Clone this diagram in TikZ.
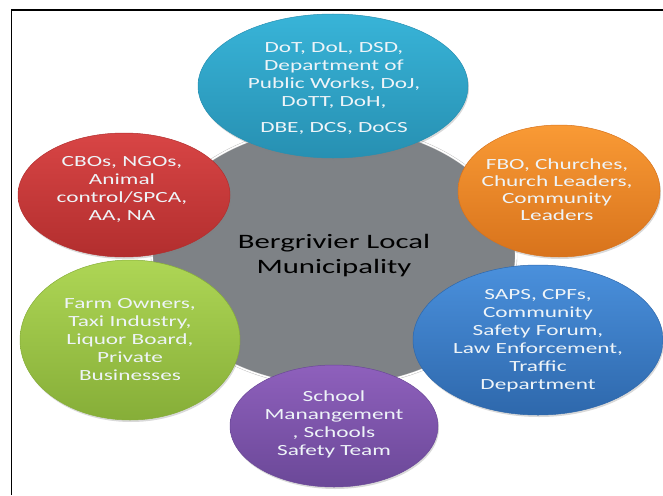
\documentclass[tikz,border=0pt]{standalone}
\usepackage{fontspec}
\setmainfont{Carlito}[FakeStretch=1.5]
\usepackage{tikz}
\usetikzlibrary{shapes.geometric,shadows}
\usepackage{xcolor}

\definecolor{hubgray}{HTML}{7E8286}
\definecolor{textwhite}{HTML}{EEF4F8}
\definecolor{dotTop}{HTML}{38B4D8}
\definecolor{dotBot}{HTML}{2790B2}
\definecolor{cboTop}{HTML}{D84545}
\definecolor{cboBot}{HTML}{B22E2E}
\definecolor{fboTop}{HTML}{F99A35}
\definecolor{fboBot}{HTML}{D8731C}
\definecolor{sapsTop}{HTML}{4A90DC}
\definecolor{sapsBot}{HTML}{2E68AC}
\definecolor{schoolTop}{HTML}{8E60BC}
\definecolor{schoolBot}{HTML}{6B4898}
\definecolor{farmTop}{HTML}{AED655}
\definecolor{farmBot}{HTML}{86AE38}

\begin{document}
\begin{tikzpicture}[
    x=1pt, y=-1pt,
    hub/.style={ellipse, inner sep=0pt, fill=hubgray, draw=gray!55, double=white, double distance=1.6pt, line width=0.4pt},
    hubtext/.style={align=center, inner sep=0pt, text=black, font=\fontsize{20.5}{25}\selectfont},
    bubble/.style n args={2}{ellipse, inner sep=0pt, top color=#1, bottom color=#2, draw=#2, line width=0.5pt,
        drop shadow={opacity=0.3, shadow xshift=1pt, shadow yshift=-2pt}},
    bubbletext/.style={align=center, inner sep=0pt, text=textwhite, font=\fontsize{15.5}{18}\selectfont},
    frameline/.style={draw=black, line width=1.5pt}
]
\useasboundingbox (0,0) rectangle (663,495);

% Frame
\draw[frameline] (11.5,495) -- (11.5,10) -- (663,10);

% Centre
\node[hub, minimum width=364pt, minimum height=260pt] (blm) at (334,256) {};
\node[hubtext] (blmtext) at (334,256) {Bergrivier Local\\Municipality};

% Stakeholder bubbles
\node[bubble={dotTop}{dotBot}, minimum width=270pt, minimum height=144pt] (dot) at (333,86) {};
\node[bubble={cboTop}{cboBot}, minimum width=212pt, minimum height=124pt] (cbo) at (124,195) {};
\node[bubble={fboTop}{fboBot}, minimum width=202pt, minimum height=132pt] (fbo) at (559,191) {};
\node[bubble={sapsTop}{sapsBot}, minimum width=250pt, minimum height=150pt] (saps) at (538,340) {};
\node[bubble={schoolTop}{schoolBot}, minimum width=208pt, minimum height=122pt] (school) at (334,426) {};
\node[bubble={farmTop}{farmBot}, minimum width=220pt, minimum height=160pt] (farm) at (130,340) {};

% Bubble texts
\node[bubbletext] (dottext) at (334,88) {DoT, DoL, DSD,\\Department of\\Public Works, DoJ,\\DoTT, DoH,\\[8pt]DBE, DCS, DoCS};
\node[bubbletext] (cbotext) at (122,189) {CBOs, NGOs,\\Animal\\control/SPCA,\\AA, NA};
\node[bubbletext, font=\fontsize{15.5}{17}\selectfont] (fbotext) at (557,190) {FBO, Churches,\\Church Leaders,\\Community\\Leaders};
\node[bubbletext] (sapstext) at (538,341) {SAPS, CPFs,\\Community\\Safety Forum,\\Law Enforcement,\\Traffic\\Department};
\node[bubbletext] (schooltext) at (334,424) {School\\Manangement\\, Schools\\Safety Team};
\node[bubbletext] (farmtext) at (130,340) {Farm Owners,\\Taxi Industry,\\Liquor Board,\\Private\\Businesses};

\end{tikzpicture}
\end{document}
